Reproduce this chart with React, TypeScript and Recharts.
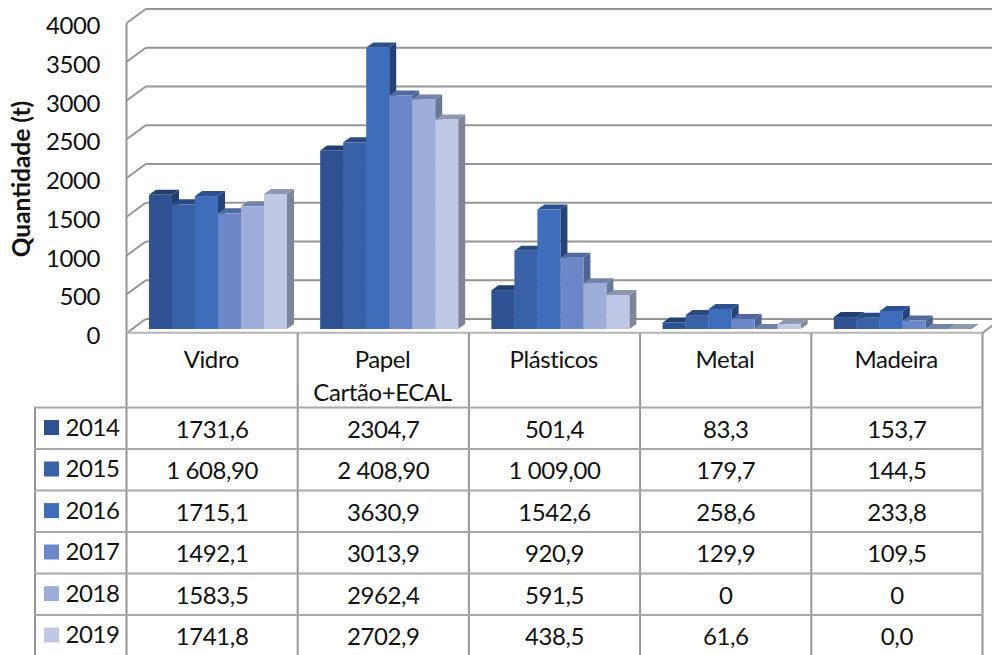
import { Bar, BarChart, CartesianGrid, XAxis, YAxis } from 'recharts'

const categories = ['Vidro', 'Papel\nCartão+ECAL', 'Plásticos', 'Metal', 'Madeira']
const yTicks = [0, 500, 1000, 1500, 2000, 2500, 3000, 3500, 4000]

const rows2014 = ['1731,6', '2304,7', '501,4', '83,3', '153,7']
const rows2015 = ['1 608,90', '2 408,90', '1 009,00', '179,7', '144,5']
const rows2016 = ['1715,1', '3630,9', '1542,6', '258,6', '233,8']
const rows2017 = ['1492,1', '3013,9', '920,9', '129,9', '109,5']
const rows2018 = ['1583,5', '2962,4', '591,5', '0', '0']
const rows2019 = ['1741,8', '2702,9', '438,5', '61,6', '0,0']

const series = [
    { year: '2014', cells: rows2014, front: '#2e5292', top: '#233f72', side: '#223d6e' },
    { year: '2015', cells: rows2015, front: '#3861a8', top: '#2a4a82', side: '#2a4a80' },
    { year: '2016', cells: rows2016, front: '#3e6dbb', top: '#2c5090', side: '#264379' },
    { year: '2017', cells: rows2017, front: '#6c87c8', top: '#50699f', side: '#4e6392' },
    { year: '2018', cells: rows2018, front: '#9cadd9', top: '#7283ab', side: '#6a7898' },
    { year: '2019', cells: rows2019, front: '#bfc9e5', top: '#8e99b0', side: '#7f8599' },
]

const toNumber = (cell: string) => parseFloat(cell.replace(' ', '').replace(',', '.'))

const data = categories.map((name, i) => {
    const row: Record<string, string | number> = { name }
    series.forEach((s) => {
        row[s.year] = toNumber(s.cells[i])
    })
    return row
})

const FONT = 'Lato, sans-serif'
const TEXT = '#111111'
const LINE = '#959595'
const ROW_LINE = '#a8a8a8'
const FLOOR_LINE = '#b5b5b5'
const FONT_SIZE = 24
const TIGHT = -0.4
const DEPTH_X = 7
const DEPTH_Y = 5
const columnX = [126.5, 297.7, 468.9, 640.1, 811.3, 982.5]
const rowY = [407.5, 449, 490.6, 532, 573.6, 615]

function Bar3D({ x, y, width, height, front, top, side }: any) {
    const right = x + width
    const bottom = y + height
    return (
        <g>
            <polygon
                points={`${right},${y} ${right + DEPTH_X},${y - DEPTH_Y} ${right + DEPTH_X},${bottom - DEPTH_Y} ${right},${bottom}`}
                fill={side}
            />
            <polygon
                points={`${x},${y} ${x + DEPTH_X},${y - DEPTH_Y} ${right + DEPTH_X},${y - DEPTH_Y} ${right},${y}`}
                fill={top}
            />
            <rect x={x} y={y} width={width} height={height} fill={front} />
        </g>
    )
}

function WallLine({ x1, y1 }: any) {
    return (
        <g>
            <line x1={x1 - 5.5} y1={y1 + 4} x2={x1 + 13.5} y2={y1 - 10} stroke={LINE} strokeWidth={2} />
            <line x1={x1 + 13.5} y1={y1 - 10} x2={1001} y2={y1 - 10} stroke={LINE} strokeWidth={2} />
        </g>
    )
}

function ValueTick({ y, payload }: any) {
    return (
        <text x={100} y={y + 15} textAnchor="end" fontFamily={FONT} fontSize={FONT_SIZE} letterSpacing={TIGHT} fill={TEXT}>
            {payload.value}
        </text>
    )
}

function CategoryTick({ x, payload }: any) {
    const lines = String(payload.value).split('\n')
    return (
        <g>
            {lines.map((line, i) => (
                <text
                    key={line}
                    x={x - 6.5}
                    y={368 + i * 33}
                    textAnchor="middle"
                    fontFamily={FONT}
                    fontSize={FONT_SIZE}
                    letterSpacing={TIGHT}
                    fill={TEXT}
                >
                    {line}
                </text>
            ))}
        </g>
    )
}

function DataTable() {
    return (
        <svg width={992} height={655} style={{ position: 'absolute', left: 0, top: 0, pointerEvents: 'none' }}>
            <line x1={126.5} y1={23} x2={126.5} y2={333} stroke={LINE} strokeWidth={2} />
            <line x1={126} y1={332.7} x2={982.5} y2={332.7} stroke={FLOOR_LINE} strokeWidth={2} />
            <line x1={982.5} y1={333} x2={1001} y2={319} stroke={LINE} strokeWidth={2} />
            {columnX.map((x) => (
                <line key={x} x1={x} y1={333} x2={x} y2={655} stroke={LINE} strokeWidth={2} />
            ))}
            <line x1={35} y1={rowY[0]} x2={35} y2={655} stroke={LINE} strokeWidth={2} />
            {rowY.map((y) => (
                <line key={y} x1={34} y1={y} x2={983} y2={y} stroke={ROW_LINE} strokeWidth={2} />
            ))}
            {series.map((s, r) => (
                <g key={s.year}>
                    <rect x={44} y={rowY[r] + 12.5} width={15} height={15} fill={s.front} />
                    <text x={65.5} y={rowY[r] + 28} fontFamily={FONT} fontSize={FONT_SIZE} letterSpacing={TIGHT} fill={TEXT}>
                        {s.year}
                    </text>
                    {s.cells.map((cell, c) => (
                        <text
                            key={c}
                            x={(columnX[c] + columnX[c + 1]) / 2}
                            y={rowY[r] + 30}
                            textAnchor="middle"
                            fontFamily={FONT}
                            fontSize={FONT_SIZE}
                            letterSpacing={TIGHT}
                            fill={TEXT}
                        >
                            {cell}
                        </text>
                    ))}
                </g>
            ))}
        </svg>
    )
}

export default function App() {
    return (
        <div style={{ position: 'absolute', left: 0, top: 0, width: 992, height: 655, background: '#fff', overflow: 'hidden' }}>
            <BarChart
                width={992}
                height={655}
                data={data}
                margin={{ top: 19, right: 3.8, bottom: 0, left: 0 }}
                barGap={0}
                barCategoryGap={16.8}
            >
                <CartesianGrid vertical={false} horizontal={(props: any) => <WallLine key={props.y1} {...props} />} syncWithTicks />
                <XAxis dataKey="name" height={326} axisLine={false} tickLine={false} tick={<CategoryTick />} interval={0} />
                <YAxis
                    width={132.2}
                    domain={[0, 4000]}
                    ticks={yTicks}
                    axisLine={false}
                    tickLine={false}
                    tick={<ValueTick />}
                    label={{
                        content: () => (
                            <text
                                transform="translate(30 179) rotate(-90)"
                                textAnchor="middle"
                                fontFamily={FONT}
                                fontSize={24.5}
                                fontWeight={700}
                                fill={TEXT}
                            >
                                Quantidade (t)
                            </text>
                        ),
                    }}
                />
                {series.map((s) => (
                    <Bar
                        key={s.year}
                        dataKey={s.year}
                        isAnimationActive={false}
                        shape={(props: any) => <Bar3D {...props} front={s.front} top={s.top} side={s.side} />}
                    />
                ))}
            </BarChart>
            <DataTable />
        </div>
    )
}
